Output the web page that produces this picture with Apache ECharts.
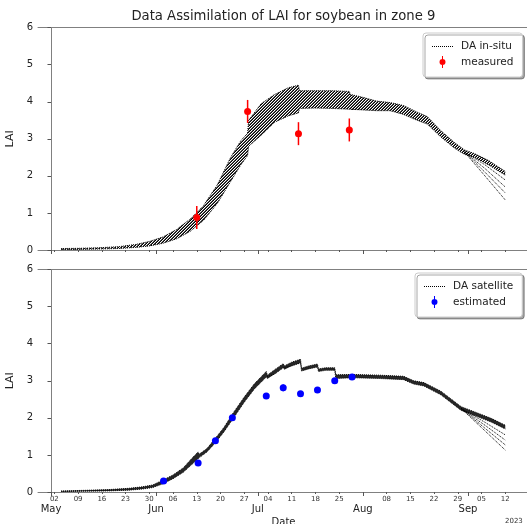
<!DOCTYPE html>
<html>
<head>
<meta charset="utf-8">
<script src="https://cdn.jsdelivr.net/npm/echarts@6/dist/echarts.min.js"></script>
<style>
	html,body{ margin:0; padding:0; background:#fff;}
	#mainBox{ width:527px; height:524px;}
</style>
</head>
<body>
<div id="mainBox"></div>
<script>
// day numbers count from 2023-05-01 (= 0)
var weekTicks=[1,8,15,22,29,36,43,50,57,64,71,78,85,99,106,113,120,127,134];
var weekLabels=['02','09','16','23','30','06','13','20','27','04','11','18','25','08','15','22','29','05','12'];
var monthTicks=[0,31,61,92,123];
var monthNames=['May','Jun','Jul','Aug','Sep'];

// DA in-situ ensemble envelope (top)
var insituDays=[3,8,14,20,25,29,33,37,41,45,49,53,56,58,58.3,62,66,70,73,73.3,78,83,88,88.3,92,96,100,104,108,111,115,119,122,125,129,134];
var insituLow =[0.01,0.015,0.025,0.04,0.07,0.11,0.18,0.3,0.5,0.8,1.25,1.85,2.3,2.55,2.8,3.1,3.45,3.62,3.7,3.82,3.83,3.82,3.8,3.78,3.78,3.76,3.76,3.66,3.5,3.4,3.05,2.75,2.58,2.5,2.3,2.02];
var insituHigh=[0.04,0.045,0.06,0.09,0.15,0.23,0.35,0.55,0.83,1.2,1.75,2.5,2.95,3.15,3.5,3.95,4.2,4.38,4.45,4.3,4.3,4.3,4.28,4.2,4.12,4.02,3.98,3.9,3.72,3.6,3.22,2.9,2.7,2.6,2.42,2.12];
var insituFanDays=[122,128,134];
var insituFan=[[2.64,2.3,1.89],[2.64,2.2,1.7],[2.64,2.1,1.54],[2.64,2.0,1.35]];
var measDays=[43,58,73,88];
var measVal=[0.88,3.74,3.14,3.24];
var measErr=[0.31,0.31,0.31,0.31];

// DA satellite ensemble envelope (bottom)
var satDays=[3,10,17,23,27,30,33,36,39,42,43.4,43.7,46,48.5,51,53.5,57,60,63.5,63.8,66,68.5,68.8,71,73.6,73.9,76,78.6,78.9,81,83.7,84,89,97,104,107,110,115,121,125,130,134];
var satLow =[0.01,0.02,0.03,0.05,0.08,0.12,0.22,0.36,0.53,0.78,0.9,0.93,1.08,1.33,1.62,1.95,2.42,2.78,3.1,3.05,3.18,3.35,3.3,3.4,3.48,3.26,3.32,3.37,3.25,3.28,3.28,3.06,3.08,3.06,3.03,2.91,2.86,2.62,2.2,2.06,1.88,1.7];
var satHigh=[0.03,0.045,0.065,0.1,0.14,0.19,0.32,0.46,0.65,0.95,1.08,1.02,1.17,1.45,1.74,2.1,2.56,2.92,3.25,3.15,3.3,3.46,3.4,3.5,3.58,3.34,3.4,3.45,3.32,3.35,3.35,3.16,3.17,3.15,3.12,3.0,2.95,2.72,2.3,2.16,1.98,1.8];
var satFanDays=[121,128,134];
var satFan=[[2.25,1.88,1.54],[2.25,1.8,1.4],[2.25,1.72,1.27],[2.25,1.65,1.13]];
var estDays=[33.2,43.4,48.5,53.5,63.5,68.5,73.6,78.6,83.7,88.8];
var estVal=[0.3,0.78,1.38,2.0,2.59,2.81,2.65,2.75,3.0,3.1];
var estErr=[0.06,0.06,0.06,0.06,0.08,0.09,0.06,0.06,0.06,0.06];

var FONT='DejaVu Sans';
var X_MIN=-3.83, X_MAX=141.0;
var errIcon='path://M5,3.5 A3.5,3.5 0 1,1 5,10.5 A3.5,3.5 0 1,1 5,3.5 Z M4.4,0 L5.6,0 L5.6,14 L4.4,14 Z';
var dotIcon=(function(){
	var p='path://';
	for(var x=0;x<=20;x+=2)p+='M'+x+',0 L'+(x+1)+',0 L'+(x+1)+',1 L'+x+',1 Z ';
	return p;
})();

var hatch=(function(){
	var c=document.createElement('canvas');
	c.width=3;c.height=3;
	var g=c.getContext('2d');
	g.fillStyle='rgba(0,0,0,1)';
	g.fillRect(2,0,1,1);g.fillRect(1,1,1,1);g.fillRect(0,2,1,1);
	g.fillStyle='rgba(0,0,0,0.65)';
	g.fillRect(1,0,1,1);g.fillRect(0,1,1,1);g.fillRect(2,2,1,1);
	return c;
})();

var pairs=function(xs,ys){
	var out=[];
	for(var i=0;i<xs.length;i++)out.push([xs[i],ys[i]]);
	return out;
};
var errData=function(xs,v,e){
	var out=[];
	for(var i=0;i<xs.length;i++)out.push([xs[i],v[i]-e[i],v[i]+e[i]]);
	return out;
};

var xBase=function(grid,extra){
	var o={type:'value',gridIndex:grid,min:X_MIN,max:X_MAX,splitLine:{show:false},
		axisLine:{show:false},axisTick:{show:false},axisLabel:{show:false}};
	for(var k in extra)o[k]=extra[k];
	return o;
};
var spine={show:true,lineStyle:{color:'#808080',width:1}};

var xAxes=[];
for(var gi=0;gi<2;gi++){
	var showLab=gi==1;
	xAxes.push(xBase(gi,{position:'bottom',axisLine:spine,
		axisTick:{show:true,length:2,customValues:weekTicks,lineStyle:{color:'#555'}},
		axisLabel:{show:showLab,customValues:weekTicks,margin:4,fontSize:7,fontFamily:FONT,color:'#333',
			formatter:function(v){var i=weekTicks.indexOf(v);return i<0?'':weekLabels[i];}}}));
	xAxes.push(xBase(gi,{position:'bottom',
		axisTick:{show:true,length:4,customValues:monthTicks,lineStyle:{color:'#555'}},
		axisLabel:{show:showLab,customValues:monthTicks,margin:12,fontSize:10,fontFamily:FONT,color:'#222',
			formatter:function(v){var i=monthTicks.indexOf(v);return i<0?'':monthNames[i];}},
		name:showLab?'Date':'',nameLocation:'middle',nameGap:25,
		nameTextStyle:{fontSize:10,fontFamily:FONT,color:'#222'}}));
	xAxes.push(xBase(gi,{position:'top',axisLine:spine}));
}

var yAxes=[0,1].map(function(gi){
	return {type:'value',gridIndex:gi,min:0,max:6,interval:1,position:'left',
		splitLine:{show:false},axisLine:spine,
		axisTick:{show:true,length:3.5,lineStyle:{color:'#555'}},
		axisLabel:{fontSize:10,fontFamily:FONT,color:'#222',margin:5},
		name:'LAI',nameLocation:'middle',nameGap:17,nameRotate:90,
		nameTextStyle:{fontSize:11,fontFamily:FONT,color:'#222'}};
});

var dotted={color:'#000',width:1,type:'dotted'};
var ensemble=function(name,xi,yi,days,lo,hi,fanDays,fan,fill){
	var s=[];
	s.push({name:name,type:'line',xAxisIndex:xi,yAxisIndex:yi,symbol:'none',
		itemStyle:{color:'#000'},lineStyle:dotted,data:pairs(days,lo),z:3});
	s.push({name:name,type:'line',xAxisIndex:xi,yAxisIndex:yi,symbol:'none',
		itemStyle:{color:'#000'},lineStyle:dotted,data:pairs(days,hi),z:3});
	// hatched band between the ensemble envelope lines
	s.push({type:'custom',xAxisIndex:xi,yAxisIndex:yi,z:2,silent:true,
		data:pairs(days,lo),
		renderItem:function(params,api){
			if(params.dataIndex!==0)return null;
			var pts=[];
			for(var i=0;i<days.length;i++)pts.push(api.coord([days[i],hi[i]]));
			for(var j=days.length-1;j>=0;j--)pts.push(api.coord([days[j],lo[j]]));
			return {type:'polygon',shape:{points:pts},style:{fill:fill,stroke:null}};
		}});
	for(var i=0;i<fan.length;i++){
		s.push({name:name,type:'line',xAxisIndex:xi,yAxisIndex:yi,symbol:'none',
			itemStyle:{color:'#000'},lineStyle:dotted,data:pairs(fanDays,fan[i]),z:3});
	}
	return s;
};
var points=function(name,xi,yi,color,days,val,err){
	return [{type:'custom',xAxisIndex:xi,yAxisIndex:yi,z:5,
		data:errData(days,val,err),
		renderItem:function(params,api){
			var lo=api.coord([api.value(0),api.value(1)]);
			var hi=api.coord([api.value(0),api.value(2)]);
			return {type:'line',shape:{x1:lo[0],y1:lo[1],x2:hi[0],y2:hi[1]},
				style:{stroke:color,lineWidth:1.5}};
		}},
		{name:name,type:'scatter',xAxisIndex:xi,yAxisIndex:yi,z:6,symbol:'circle',symbolSize:7,
		itemStyle:{color:color,opacity:1},data:pairs(days,val)}];
};

var series=[].concat(
	ensemble('DA in-situ',0,0,insituDays,insituLow,insituHigh,insituFanDays,insituFan,{image:hatch,repeat:'repeat'}),
	points('measured',0,0,'#ff0000',measDays,measVal,measErr),
	ensemble('DA satellite',3,1,satDays,satLow,satHigh,satFanDays,satFan,'rgba(0,0,0,0.85)'),
	points('estimated',3,1,'#0000ff',estDays,estVal,estErr)
);

var legendBox={orient:'vertical',backgroundColor:'#fff',borderColor:'#ccc',borderWidth:1,borderRadius:3,
	shadowColor:'rgba(0,0,0,0.35)',shadowBlur:0,shadowOffsetX:2,shadowOffsetY:2,
	itemWidth:21,itemHeight:12,itemGap:4,padding:[8,9,9,9],
	textStyle:{fontSize:10.5,fontFamily:FONT,color:'#222',padding:[0,0,0,3]}};
var legend1=echarts.util.merge({left:423,top:33,
	data:[{name:'DA in-situ',icon:dotIcon},{name:'measured',icon:errIcon}]},legendBox,true);
var legend2=echarts.util.merge({left:415,top:273,
	data:[{name:'DA satellite',icon:dotIcon},{name:'estimated',icon:errIcon}]},legendBox,true);

var myChart=echarts.init(document.getElementById('mainBox'),null,{renderer:'canvas'});
myChart.setOption({
	animation:false,
	backgroundColor:'#fff',
	grid:[
		{left:38,top:27.7,width:491,height:222.3,outerBoundsMode:'none',containLabel:false},
		{left:38,top:269.5,width:491,height:222.5,outerBoundsMode:'none',containLabel:false}
	],
	xAxis:xAxes,
	yAxis:yAxes,
	legend:[legend1,legend2],
	series:series,
	graphic:[
		{type:'text',x:283.4,y:17,style:{text:'Data Assimilation of LAI for soybean in zone 9',
			fontSize:13.2,fontFamily:FONT,fill:'#222',align:'center',verticalAlign:'middle'}},
		{type:'text',x:505,y:521,style:{text:'2023',fontSize:7,fontFamily:FONT,fill:'#333',
			align:'left',verticalAlign:'middle'}}
	]
});
</script>
</body>
</html>
